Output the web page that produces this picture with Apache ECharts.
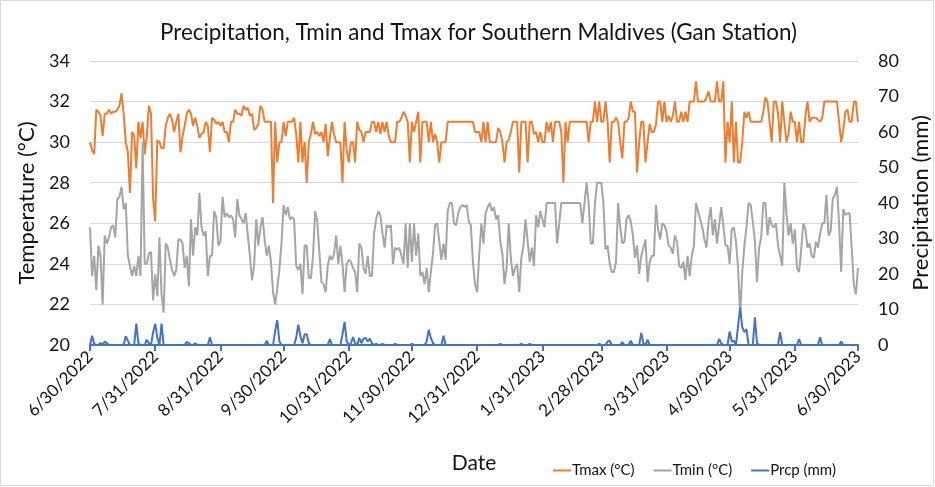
<!DOCTYPE html>
<html>
<head>
<meta charset="utf-8">
<script src="https://cdn.jsdelivr.net/npm/echarts@6/dist/echarts.min.js"></script>
<style>
html,body{margin:0;padding:0;background:#fff;}
#chart{width:935px;height:487px;}
</style>
</head>
<body>
<div id="chart"></div>
<script>
// Daily series from 6/30/2022 to 6/30/2023 (366 days)
var startDate = [2022, 6, 30];
var dayCount = 366;

var tickLabels = ['6/30/2022','7/31/2022','8/31/2022','9/30/2022','10/31/2022','11/30/2022',
  '12/31/2022','1/31/2023','2/28/2023','3/31/2023','4/30/2023','5/31/2023','6/30/2023'];

var tmax = [
30.0,29.6,29.4,31.6,31.5,31.3,30.3,31.4,31.4,31.6,
31.4,31.5,31.5,31.6,31.8,32.4,31.4,30.0,29.5,27.5,
30.5,30.3,28.7,31.0,30.2,31.0,29.4,30.3,31.8,31.4,
27.2,26.1,30.1,30.0,29.7,29.7,30.8,31.2,31.4,31.1,
30.5,31.0,31.4,29.5,30.3,30.8,31.4,31.6,31.4,30.8,
31.2,30.8,30.2,30.4,30.5,31.0,30.8,29.5,31.2,31.1,
30.9,31.0,30.8,31.0,30.5,30.5,30.0,31.0,31.0,31.6,
31.4,31.4,31.3,31.8,31.6,31.7,31.3,31.4,30.6,30.7,
30.9,31.8,31.6,31.0,31.0,31.0,31.0,27.0,31.0,29.0,
30.0,30.0,31.0,30.3,31.0,31.0,31.0,31.2,30.4,29.0,
31.0,29.0,30.0,28.0,30.0,30.4,31.0,30.4,30.5,30.3,
30.5,30.0,30.9,29.3,30.2,31.0,30.4,30.0,30.0,30.0,
28.0,31.0,29.6,29.0,30.0,30.0,29.0,31.0,30.6,30.5,
30.0,30.5,30.5,30.5,31.0,31.0,30.5,31.0,30.4,31.0,
30.5,31.0,30.3,30.0,30.0,30.0,31.0,31.0,31.2,31.5,
31.3,31.0,29.0,31.0,30.5,31.0,31.5,29.0,31.0,31.0,
31.0,30.0,31.0,30.0,30.4,30.0,29.0,30.0,30.0,30.0,
31.0,31.0,31.0,31.0,31.0,31.0,31.0,31.0,31.0,31.0,
31.0,31.0,31.0,30.5,30.5,30.5,30.0,31.0,30.0,31.0,
30.0,30.0,30.0,30.0,30.7,30.5,30.0,29.0,30.0,30.1,
30.5,31.0,31.0,31.0,28.5,31.0,31.0,31.0,29.0,31.0,
31.0,30.4,30.5,30.0,30.5,30.0,30.0,31.0,30.5,31.0,
30.0,31.0,31.0,31.0,30.5,28.0,31.0,30.0,31.0,31.0,
31.0,31.0,31.0,31.0,31.0,31.0,31.0,30.0,31.0,31.0,
32.0,31.0,32.0,31.0,31.0,32.0,31.0,29.0,31.0,31.0,
31.2,31.0,30.0,29.2,31.0,31.0,31.2,32.0,31.5,31.5,
28.5,30.0,31.0,31.0,29.0,30.0,30.9,30.5,30.5,30.9,
32.0,32.0,31.0,32.0,31.0,31.3,31.0,31.3,32.0,31.0,
31.0,31.5,31.0,31.5,31.0,32.0,32.0,32.0,33.0,32.0,
32.0,32.0,32.0,32.2,32.5,32.0,32.0,32.0,33.0,32.0,
32.0,33.0,29.0,31.0,30.0,32.0,29.0,31.0,29.0,29.0,
30.0,31.5,31.2,31.5,31.0,31.0,31.0,31.0,31.0,31.0,
31.5,32.2,32.0,31.0,30.0,32.0,32.0,31.4,30.0,32.0,
31.0,30.0,30.4,31.5,31.0,31.0,30.0,31.0,30.0,30.0,
31.3,32.0,31.0,31.2,31.2,31.2,31.1,31.0,31.2,32.0,
32.0,32.0,32.0,32.0,32.0,32.0,31.0,30.0,30.6,31.5,
31.6,31.0,31.0,32.0,32.0,31.0
];

var tmin = [
25.8,23.4,24.4,22.7,24.9,24.4,22.0,25.4,25.0,25.3,
25.8,25.9,25.3,27.2,27.3,27.8,26.7,27.0,24.4,23.9,
23.4,23.9,23.4,24.4,23.4,30.0,24.0,24.0,24.5,24.6,
22.2,23.5,22.4,25.3,22.5,21.6,25.0,24.8,24.2,23.7,
23.4,23.7,25.2,25.2,25.0,23.8,24.4,22.9,26.2,24.4,
25.8,25.4,27.5,25.8,25.4,25.6,23.4,24.4,24.4,26.6,
26.3,24.9,25.1,27.3,26.3,26.5,26.3,26.4,26.2,25.3,
27.2,26.4,26.2,26.0,26.5,25.4,24.4,23.2,23.9,26.2,
24.9,25.8,26.3,25.2,24.4,24.9,24.1,22.6,22.0,22.8,
23.7,25.0,26.9,26.4,26.8,26.2,26.3,26.2,23.9,23.7,
24.0,22.5,24.9,24.9,23.3,23.3,24.4,26.6,26.1,24.6,
23.1,23.0,22.6,23.9,24.4,24.2,24.5,25.4,24.0,24.9,
24.0,22.6,24.0,24.2,24.1,23.8,23.6,22.6,25.0,24.8,
23.8,23.5,24.4,23.4,23.4,25.5,26.2,26.6,26.4,25.5,
24.8,25.9,25.8,25.9,24.0,24.8,24.7,24.8,24.4,24.0,
26.0,23.8,26.0,24.1,26.0,24.4,25.5,23.4,23.6,23.0,
23.8,22.6,23.6,24.5,25.9,26.0,25.1,24.2,25.0,24.2,
26.6,27.0,27.0,26.0,25.9,26.5,26.8,26.9,26.8,26.9,
26.1,25.9,24.1,23.0,22.6,24.5,26.0,25.0,26.5,26.8,
27.0,26.6,26.8,26.2,26.4,25.1,24.5,23.0,23.8,26.0,
24.3,23.4,23.8,24.0,22.6,24.3,24.9,26.2,25.1,24.1,
24.8,23.9,26.4,25.8,26.6,26.2,25.8,27.0,27.0,27.0,
27.0,27.0,25.0,26.0,27.0,27.0,27.0,27.0,27.0,27.0,
27.0,27.0,27.0,27.0,26.0,27.0,28.0,27.0,25.0,25.0,
27.0,28.0,28.0,28.0,27.0,24.7,24.9,24.0,23.6,23.6,
24.1,27.0,25.8,25.0,25.1,26.2,26.4,26.1,25.4,24.3,
24.9,23.5,24.4,24.8,25.2,23.1,24.1,24.4,24.4,26.9,
25.7,25.2,26.0,25.9,25.6,24.9,24.8,24.5,25.4,25.1,
23.9,23.8,24.1,23.2,24.4,23.4,24.4,24.9,27.0,26.6,
26.2,25.8,25.2,24.8,26.1,26.8,25.4,26.2,25.0,25.9,
26.8,25.9,24.9,24.9,24.0,25.7,25.8,25.1,23.8,21.5,
23.6,24.9,25.8,27.0,26.9,26.1,25.1,23.1,24.8,25.3,
27.0,27.0,25.4,26.3,25.9,25.8,26.0,24.9,24.4,23.9,
28.0,26.5,25.4,26.0,25.0,25.7,23.8,23.6,24.7,26.0,
25.7,24.8,25.0,24.4,24.3,25.1,24.8,25.5,26.0,26.0,
27.4,25.4,25.6,27.2,27.4,27.8,26.0,23.6,26.7,26.4,
26.5,26.5,24.8,23.0,22.5,23.8
];

var prcp = [
0,2.6,0.3,0,0,0.6,0,1.0,0.5,0,
0,0,0,0,0,0,0,2.5,1.2,0,
0,0,6.0,0.5,0,0,0,1.5,0.5,0,
3.6,6.0,2.0,0,6.0,0,0,0,0,0,
0,0,0,0,0,0,0.9,0.5,0,0,
0.5,0,0,0,0,0,0,2.2,0,0,
0,0,0,0,0,0,0,0,0,0,
0,0,0,0,0,0,0,0,0,0,
0,0,0,0,1.2,0,0,0,4.0,7.0,
1.0,0,0,0,0,0,0,0,2.0,5.7,
2.5,0.5,3.0,3.0,0.5,0,0,0,0,0,
0,0,0,0,1.7,0,0,0,0,0,
3.0,6.5,1.0,0,0.5,2.2,0.5,0,2.0,0.5,
1.8,2.0,1.0,1.8,0.5,0,0.3,0,0,0.3,
0,0,0,0,0,0.3,0,0,0,0,
0,0,0,0.3,0,0,0,0,0,0,
1.0,4.3,2.0,0.5,0,0,0,0,2.6,0,
0,0,0,0,0,0,0,0,0,0,
0,0,0,0,0,0,0,0,0,0,
0,0,0,0,0,0.3,0,0,0,0,
0,0,0,0,0,0.3,0,0,0,0.3,
0,0,0,0,0,0,0,0,0,0,
0,0,0,0,0,0,0,0,0,0,
0,0,0,0,0,0,0,0,0,0,
0,0,0.3,0,0,0,1.0,1.2,0,0,
0,0,0,0.8,0,0,0,1.2,0,0,
0,0,3.4,0.5,0,1.5,0,0,0,0,
0,0,0,0,0,0,0,0,0,0,
0,0,0,0,0,0,0,0,0,0,
0,0,0,0,0,0,0,0,0,1.7,
0.5,0,0,0,3.8,1.0,1.2,0,5.3,10.5,
5.0,3.6,4.5,0,0,0,7.8,0.5,0,0,
0,0,0,0,0,0,0,0,3.6,0,
0,0,0,0,0,0,0,1.7,0,0,
0,0,0,0,0,0,0,2.2,0,0,
0,0,0,0,0,0,0,1.0,0,0,
0,0,0,0,0,0
];

// Build category dates (m/d/yyyy)
var dates = [];
(function(){
  var d = new Date(Date.UTC(startDate[0], startDate[1]-1, startDate[2]));
  for (var i = 0; i < dayCount; i++) {
    dates.push((d.getUTCMonth()+1) + '/' + d.getUTCDate() + '/' + d.getUTCFullYear());
    d.setUTCDate(d.getUTCDate()+1);
  }
})();
var tickSet = {};
tickLabels.forEach(function(t){ tickSet[t] = true; });

var FONT = 'Lato, "Noto Sans", sans-serif';
var TXT = '#141414';
var chart = echarts.init(document.getElementById('chart'), null, {renderer:'canvas'});
chart.setOption({
  backgroundColor: '#ffffff',
  animation: false,
  title: {
    text: 'Precipitation, Tmin and Tmax for Southern Maldives (Gan Station)',
    left: 155, top: 17,
    textStyle: {fontFamily: FONT, fontSize: 22.4, fontWeight: 'normal', color: TXT}
  },
  legend: {
    left: 548, top: 458,
    itemWidth: 18, itemHeight: 2, itemGap: 19,
    icon: 'rect',
    textStyle: {fontFamily: FONT, fontSize: 15, color: TXT, padding: [0,0,0,-4]},
    data: ['Tmax (°C)', 'Tmin (°C)', 'Prcp (mm)']
  },
  graphic: [{
    type: 'rect', shape: {x: 0.5, y: 0.5, width: 933, height: 485},
    style: {fill: null, stroke: '#d9d9d9', lineWidth: 1}, silent: true, z: -1
  }],
  grid: {left: 90, right: 77, top: 61, bottom: 142, containLabel: false, outerBoundsMode: 'none'},
  xAxis: {
    type: 'category', data: dates, boundaryGap: false,
    name: 'Date', nameLocation: 'middle', nameGap: 108,
    nameTextStyle: {fontFamily: FONT, fontSize: 21, color: TXT},
    axisLine: {show: true, lineStyle: {color: '#4472C4', width: 2}},
    axisTick: {show: true, length: 6, lineStyle: {color: '#4472C4', width: 2},
      interval: function(i, v){ return !!tickSet[v]; }},
    axisLabel: {
      rotate: 45, margin: 9, fontFamily: FONT, fontSize: 17, color: TXT,
      interval: function(i, v){ return !!tickSet[v]; }
    },
    splitLine: {show: false}
  },
  yAxis: [{
    type: 'value', min: 20, max: 34, interval: 2,
    name: 'Temperature (°C)', nameLocation: 'middle', nameGap: 45,
    nameTextStyle: {fontFamily: FONT, fontSize: 22, color: TXT},
    axisLine: {show: false}, axisTick: {show: false},
    axisLabel: {fontFamily: FONT, fontSize: 18, color: TXT, margin: 20},
    splitLine: {show: true, lineStyle: {color: '#d9d9d9', width: 1}}
  }, {
    type: 'value', min: 0, max: 80, interval: 10,
    name: 'Precipitation (mm)', nameLocation: 'middle', nameGap: 48,
    nameTextStyle: {fontFamily: FONT, fontSize: 22, color: TXT},
    axisLine: {show: false}, axisTick: {show: false},
    axisLabel: {fontFamily: FONT, fontSize: 18, color: TXT, margin: 20},
    splitLine: {show: false}
  }],
  series: [{
    name: 'Tmax (°C)', type: 'line', data: tmax, yAxisIndex: 0,
    showSymbol: false, symbol: 'none', smooth: false,
    lineStyle: {color: '#ED7D31', width: 2}, itemStyle: {color: '#ED7D31'}
  }, {
    name: 'Tmin (°C)', type: 'line', data: tmin, yAxisIndex: 0,
    showSymbol: false, symbol: 'none', smooth: false,
    lineStyle: {color: '#A5A5A5', width: 2}, itemStyle: {color: '#A5A5A5'}
  }, {
    name: 'Prcp (mm)', type: 'line', data: prcp, yAxisIndex: 1,
    showSymbol: false, symbol: 'none', smooth: false,
    lineStyle: {color: '#4472C4', width: 2}, itemStyle: {color: '#4472C4'}
  }]
});
</script>
</body>
</html>
